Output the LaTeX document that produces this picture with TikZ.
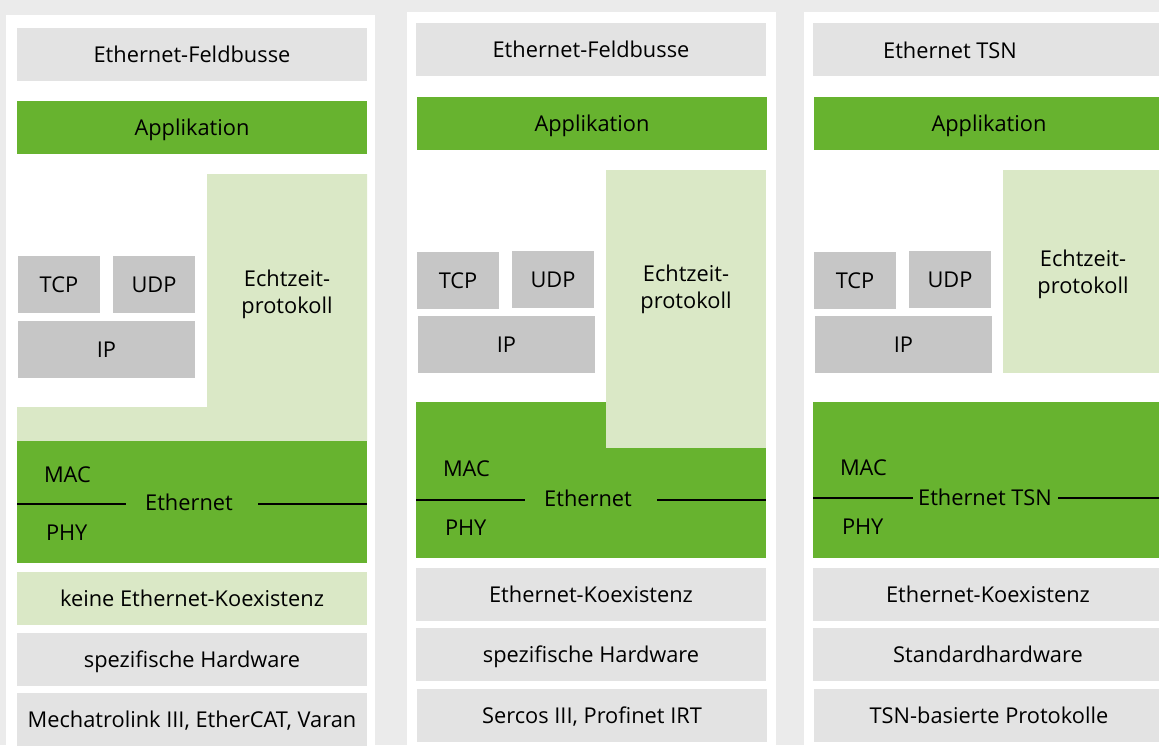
\documentclass[tikz,border=0pt]{standalone}
\usepackage{fontspec}
\setmainfont{Open Sans}
\definecolor{bggray}{HTML}{EBEBEB}
\definecolor{boxgray}{HTML}{E3E3E3}
\definecolor{protogray}{HTML}{C6C6C6}
\definecolor{mygreen}{HTML}{67B32F}
\definecolor{lightgreen}{HTML}{DAE8C6}
\newcommand\blkat[7]{%
  \pgfmathsetmacro\myCx{(#3+#5)/2}\pgfmathsetmacro\myCy{(#4+#6)/2}%
  \pgfmathsetmacro\myBw{#5-#3}\pgfmathsetmacro\myBh{#6-#4}%
  \node[#1,minimum width=\myBw pt,minimum height=\myBh pt] (#2) at (\myCx,\myCy) {#7};}
\begin{document}
\begin{tikzpicture}[x=1pt,y=-1pt,
  blk/.style={rectangle,inner sep=0pt,outer sep=0pt,draw=none,text height=15.6pt,text depth=0pt,font=\fontsize{21.8}{27}\selectfont},
  grayblk/.style={blk,fill=boxgray},
  protoblk/.style={blk,fill=protogray},
  greenblk/.style={blk,fill=mygreen},
  lightblk/.style={blk,fill=lightgreen},
  panel/.style={blk,fill=white},
  lbl/.style={inner sep=0pt,outer sep=0pt,font=\fontsize{21.8}{27}\selectfont},
  sepline/.style={line width=1.3pt,black}]
\useasboundingbox (0,0) rectangle (1159,745);
\clip (0,0) rectangle (1159,745);
\fill[bggray] (0,0) rectangle (1159,745);
% panels
\blkat{panel}{w1}{6}{15}{375}{760}{}
\blkat{panel}{w2}{407}{12}{776}{760}{}
\blkat{panel}{w3}{804}{12}{1180}{760}{}
% ---------- panel 1
\blkat{grayblk}{p1top}{17}{28}{367}{81}{Ethernet-Feldbusse}
\blkat{greenblk}{p1app}{17}{101}{367}{154}{Applikation}
\fill[lightgreen] (207,174) -- (367,174) -- (367,441) -- (17,441) -- (17,407) -- (207,407) -- cycle;
\node[lbl,anchor=base] (p1rta) at (287,286) {Echtzeit-};
\node[lbl,anchor=base] (p1rtb) at (287,313) {protokoll};
\blkat{protoblk}{p1tcp}{18}{256}{100}{313}{TCP}
\blkat{protoblk}{p1udp}{113}{256}{195}{313}{UDP}
\blkat{protoblk}{p1ip}{18}{321}{195}{378}{IP}
\blkat{greenblk}{p1eth}{17}{441}{367}{563}{}
\node[lbl,anchor=base west] (p1mac) at (44,482) {MAC};
\node[lbl,anchor=base west] (p1phy) at (46,540) {PHY};
\node[lbl,anchor=base] (p1ethl) at (189,510) {Ethernet};
\coordinate (p1la) at (17,504); \coordinate (p1lb) at (126,504);
\coordinate (p1lc) at (258,504); \coordinate (p1ld) at (367,504);
\draw[sepline] (p1la) -- (p1lb);
\draw[sepline] (p1lc) -- (p1ld);
\blkat{lightblk}{p1koex}{17}{572}{367}{625}{keine Ethernet-Koexistenz}
\blkat{grayblk}{p1hw}{17}{633}{367}{686}{spezifische Hardware}
\blkat{grayblk}{p1prot}{17}{693}{367}{746}{Mechatrolink III, EtherCAT, Varan}
% ---------- panel 2
\blkat{grayblk}{p2top}{416}{23}{766}{76}{Ethernet-Feldbusse}
\blkat{greenblk}{p2app}{417}{97}{767}{150}{Applikation}
\blkat{greenblk}{p2eth}{416}{402}{766}{558}{}
\blkat{lightblk}{p2rt}{606}{170}{766}{448}{}
\node[lbl,anchor=base] (p2rta) at (686,281) {Echtzeit-};
\node[lbl,anchor=base] (p2rtb) at (686,308) {protokoll};
\blkat{protoblk}{p2tcp}{417}{252}{499}{309}{TCP}
\blkat{protoblk}{p2udp}{512}{251}{594}{308}{UDP}
\blkat{protoblk}{p2ip}{418}{316}{595}{373}{IP}
\node[lbl,anchor=base west] (p2mac) at (443,476) {MAC};
\node[lbl,anchor=base west] (p2phy) at (445,535) {PHY};
\node[lbl,anchor=base] (p2ethl) at (588,506) {Ethernet};
\coordinate (p2la) at (416,500); \coordinate (p2lb) at (525,500);
\coordinate (p2lc) at (657,500); \coordinate (p2ld) at (766,500);
\draw[sepline] (p2la) -- (p2lb);
\draw[sepline] (p2lc) -- (p2ld);
\blkat{grayblk}{p2koex}{416}{568}{766}{621}{Ethernet-Koexistenz}
\blkat{grayblk}{p2hw}{416}{628}{766}{681}{spezifische Hardware}
\blkat{grayblk}{p2prot}{417}{689}{767}{742}{Sercos III, Profinet IRT}
% ---------- panel 3
\blkat{grayblk}{p3top}{813}{23}{1163}{76}{}
\node[lbl,anchor=base] (p3topl) at (950,58) {Ethernet TSN};
\blkat{greenblk}{p3app}{814}{97}{1164}{150}{Applikation}
\blkat{lightblk}{p3rt}{1003}{170}{1163}{373}{}
\node[lbl,anchor=base] (p3rta) at (1083,266) {Echtzeit-};
\node[lbl,anchor=base] (p3rtb) at (1083,293) {protokoll};
\blkat{protoblk}{p3tcp}{814}{252}{896}{309}{TCP}
\blkat{protoblk}{p3udp}{909}{251}{991}{308}{UDP}
\blkat{protoblk}{p3ip}{815}{316}{992}{373}{IP}
\blkat{greenblk}{p3eth}{813}{402}{1163}{558}{}
\node[lbl,anchor=base west] (p3mac) at (840,475) {MAC};
\node[lbl,anchor=base west] (p3phy) at (842,534) {PHY};
\node[lbl,anchor=base] (p3ethl) at (985,505) {Ethernet TSN};
\coordinate (p3la) at (813,498); \coordinate (p3lb) at (913,498);
\coordinate (p3lc) at (1058,498); \coordinate (p3ld) at (1163,498);
\draw[sepline] (p3la) -- (p3lb);
\draw[sepline] (p3lc) -- (p3ld);
\blkat{grayblk}{p3koex}{813}{568}{1163}{621}{Ethernet-Koexistenz}
\blkat{grayblk}{p3hw}{813}{628}{1163}{681}{Standardhardware}
\blkat{grayblk}{p3prot}{814}{689}{1164}{742}{TSN-basierte Protokolle}
\end{tikzpicture}
\end{document}
